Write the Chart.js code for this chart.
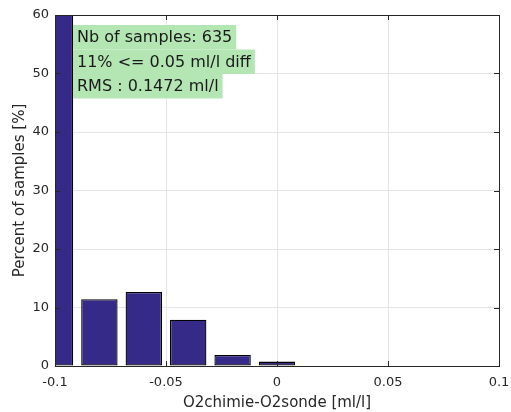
<!DOCTYPE html>
<html>
<head>
<meta charset="utf-8">
<script src="https://cdn.jsdelivr.net/npm/chart.js@4"></script>
<style>
  html, body { margin: 0; padding: 0; background: #fff; }
  #wrap { width: 511px; height: 412px; }
</style>
</head>
<body>
<div id="wrap"><canvas id="c" width="511" height="412"></canvas></div>
<script>
// ---- data ----
const binCenters = [-0.10, -0.08, -0.06, -0.04, -0.02, 0.00];
const percents   = [65.4, 11.4, 12.65, 7.9, 1.9, 0.75];
const xTicks = [-0.1, -0.05, 0, 0.05, 0.1];
const yTicks = [0, 10, 20, 30, 40, 50, 60];
const xTickLabels = ['-0.1', '-0.05', '0', '0.05', '0.1'];
const infoLines = ['Nb of samples: 635', '11% <= 0.05 ml/l diff', 'RMS : 0.1472 ml/l'];
const xTitle = 'O2chimie-O2sonde [ml/l]';
const yTitle = 'Percent of samples [%]';

const FONT = "'DejaVu Sans', sans-serif";
const TXT = '#262626';

const framePlugin = {
  id: 'frame',
  afterDatasetsDraw(chart) {
    const ctx = chart.ctx, a = chart.chartArea;
    const xs = chart.scales.x, ys = chart.scales.y;
    ctx.save();
    ctx.strokeStyle = TXT;
    ctx.lineWidth = 1;
    // inner tick marks
    ctx.beginPath();
    xTicks.forEach(v => {
      const px = Math.round(xs.getPixelForValue(v)) + 0.5;
      ctx.moveTo(px, a.bottom); ctx.lineTo(px, a.bottom - 5);
      ctx.moveTo(px, a.top); ctx.lineTo(px, a.top + 5);
    });
    yTicks.forEach(v => {
      const py = Math.round(ys.getPixelForValue(v)) + 0.5;
      ctx.moveTo(a.left, py); ctx.lineTo(a.left + 5, py);
      ctx.moveTo(a.right, py); ctx.lineTo(a.right - 5, py);
    });
    ctx.stroke();
    ctx.strokeRect(Math.round(a.left) + 0.5, Math.round(a.top) + 0.5,
                   Math.round(a.right - a.left), Math.round(a.bottom - a.top));
    // info box
    ctx.font = '16px ' + FONT;
    ctx.textBaseline = 'middle';
    const x0 = a.left + 18, y0 = a.top + 10, lh = 24.5, pad = 4;
    infoLines.forEach((t, i) => {
      const w = ctx.measureText(t).width;
      ctx.fillStyle = 'rgb(179,230,179)';
      ctx.fillRect(x0, y0 + i * lh, w + pad * 2, lh);
    });
    ctx.fillStyle = '#1a1a1a';
    infoLines.forEach((t, i) => {
      ctx.fillText(t, x0 + pad, y0 + i * lh + lh / 2 + 1);
    });
    ctx.restore();
  }
};

new Chart(document.getElementById('c'), {
  type: 'bar',
  data: {
    datasets: [{
      data: binCenters.map((x, i) => ({ x: x, y: percents[i] })),
      backgroundColor: '#352a87',
      borderColor: '#000000',
      borderWidth: 1.3,
      barPercentage: 0.82,
      categoryPercentage: 1.0,
      borderSkipped: false
    }]
  },
  options: {
    responsive: false,
    animation: false,
    events: [],
    layout: { padding: { top: 15, right: 12, left: 0, bottom: 0 } },
    plugins: { legend: { display: false }, tooltip: { enabled: false } },
    scales: {
      x: {
        type: 'linear',
        min: -0.1, max: 0.1,
        offset: false,
        afterBuildTicks(s) { s.ticks = xTicks.map(v => ({ value: v })); },
        afterFit(s) { s.height = 46; s.paddingLeft = 0; s.paddingRight = 0; },
        ticks: {
          callback: (v, i) => xTickLabels[i],
          font: { family: FONT, size: 13 },
          color: TXT,
          padding: 9,
          maxRotation: 0,
          autoSkip: false
        },
        grid: { color: '#e5e5e5', drawTicks: false, offset: false },
        border: { display: false },
        title: { display: true, text: xTitle, font: { family: FONT, size: 15 }, color: TXT, padding: { top: 1, bottom: 0 } }
      },
      y: {
        min: 0, max: 60,
        afterBuildTicks(s) { s.ticks = yTicks.map(v => ({ value: v })); },
        afterFit(s) { s.width = 55; s.paddingTop = 0; s.paddingBottom = 0; },
        ticks: {
          font: { family: FONT, size: 13 },
          color: TXT,
          padding: 6
        },
        grid: { color: '#e5e5e5', drawTicks: false },
        border: { display: false },
        title: { display: true, text: yTitle, font: { family: FONT, size: 15 }, color: TXT, padding: { top: 11, bottom: 0 } }
      }
    }
  },
  plugins: [framePlugin]
});
</script>
</body>
</html>
